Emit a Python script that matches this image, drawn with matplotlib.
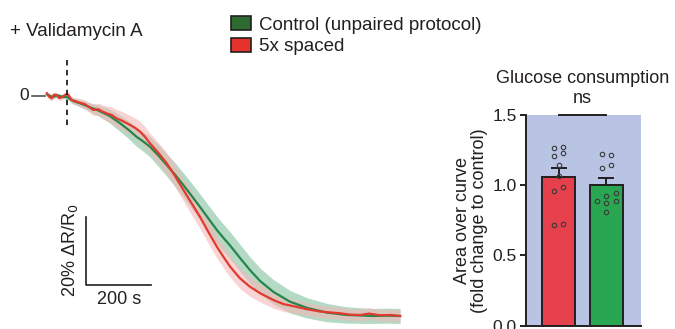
import numpy as np
import matplotlib
matplotlib.use("Agg")
import matplotlib.pyplot as plt
import matplotlib.patches as mpatches

plt.rcParams['font.family'] = ['Liberation Sans', 'DejaVu Sans']

# ---- trace data (time in s relative to drug, response in % dR/R0) ----
red_t = [-62, -55, -47, -40, -32, -24, -16, -8, 0, 4, 14, 25, 40, 55, 65, 81, 96, 110, 122,
         138, 153, 170, 194, 210, 225, 240, 255, 281, 307, 332, 358, 383, 409, 435, 461,
         482, 502, 532, 563, 594, 635, 666, 696, 738, 779, 840, 870, 902, 930, 963, 995, 1025]
red_y = [0.8, -0.2, -0.7, 0.4, 0.3, -0.6, -0.4, 0.2, 0.6, 0.3, -1.2, -1.5, -2.0, -2.4, -3.1,
         -4.1, -3.9, -4.6, -5.1, -5.6, -6.6, -7.3, -8.5, -9.4, -10.5, -12.0, -13.9, -16.7,
         -19.8, -23.5, -27.6, -31.5, -35.5, -40.0, -44.3, -47.4, -50.2, -53.6, -56.1, -58.0,
         -60.0, -61.2, -61.8, -62.7, -63.4, -63.9, -64.3, -64.4, -64.0, -64.5, -64.4, -64.7]
red_sem = [0.8, 0.8, 0.8, 0.8, 0.8, 0.8, 0.8, 0.8, 0.8, 0.9, 1.0, 1.0, 1.2, 1.3, 1.4,
           1.6, 1.8, 2.0, 2.2, 2.4, 2.6, 2.7, 2.8, 2.9, 3.0, 3.0, 3.0, 3.0, 3.1, 3.2, 3.3,
           3.4, 3.4, 3.4, 3.3, 3.2, 3.1, 3.0, 2.8, 2.6, 2.4, 2.2, 2.0, 1.9, 1.8, 1.7, 1.7,
           1.7, 1.7, 1.7, 1.7, 1.7]

green_t = [-62, -45, -30, -15, 0, 20, 45, 70, 95, 130, 163, 190, 214, 235, 255, 281, 307,
           332, 358, 383, 409, 435, 461, 482, 502, 532, 563, 594, 635, 686, 738, 799, 860,
           942, 985, 1025]
green_y = [0.5, -0.3, 0.2, -0.2, -0.3, -1.5, -2.3, -3.3, -4.2, -5.8, -8.0, -10.0, -12.0,
           -13.4, -14.9, -17.5, -20.3, -23.1, -26.2, -29.3, -32.6, -36.0, -39.4, -41.8,
           -44.0, -47.6, -51.2, -54.4, -57.6, -60.5, -62.3, -63.7, -64.4, -64.7, -64.6, -64.7]
green_sem = [0.6, 0.6, 0.6, 0.6, 0.7, 0.9, 1.1, 1.3, 1.6, 2.0, 2.4, 2.6, 2.8, 2.9, 3.0,
             3.2, 3.3, 3.5, 3.6, 3.7, 3.8, 3.9, 4.0, 4.0, 4.0, 4.0, 3.9, 3.8, 3.6, 3.3,
             3.0, 2.7, 2.4, 2.2, 2.2, 2.2]

# ---- bar data ----
bar_labels = ["5x spaced", "Control (unpaired protocol)"]
bar_means = [1.056, 1.0]
bar_sem = [0.07, 0.053]
red_points = [1.267, 1.274, 1.206, 1.227, 1.142, 1.068, 0.957, 0.989, 0.719, 0.724]
green_points = [1.22, 1.213, 1.125, 1.142, 0.89, 0.923, 0.947, 0.871, 0.885, 0.81]
red_jitter = [-0.1, 0.1, -0.1, 0.1, 0, 0, -0.1, 0.1, -0.1, 0.1]
green_jitter = [-0.09, 0.1, -0.09, 0.1, -0.19, 0, 0.2, 0, 0.2, 0]

INK = "#231f20"
RED_LINE = "#e23a2e"
RED_BAND = "#f4b8b8"
GREEN_LINE = "#23864a"
GREEN_BAND = "#8cc5a6"
BAR_RED = "#e5404b"
BAR_GREEN = "#29a652"
BG_BLUE = "#b9c3e3"

W, H = 675, 329
fig = plt.figure(figsize=(W / 100, H / 100), dpi=100)

# ---------------- left panel: traces ----------------
ax = fig.add_axes([0, 0, 420 / W, 1])
ax.set_xlim(-67 / 0.325, (420 - 67) / 0.325)
ax.set_ylim(-(H - 96) / 3.4, 96 / 3.4)
ax.axis("off")

ax.fill_between(green_t, np.array(green_y) - green_sem, np.array(green_y) + green_sem,
                color=GREEN_BAND, alpha=0.65, lw=0)
ax.fill_between(red_t, np.array(red_y) - red_sem, np.array(red_y) + red_sem,
                color=RED_BAND, alpha=0.6, lw=0)
ax.plot(green_t, green_y, color=GREEN_LINE, lw=1.6)
ax.plot(red_t, red_y, color=RED_LINE, lw=1.6)

# drug application marker
ax.plot([0, 0], [-8.5, 11.5], color=INK, lw=1.3, ls=(0, (3, 2.5)))
# zero tick
ax.plot([-108, -68], [0, 0], color="#555555", lw=1.2)
ax.text(-118, 0, "0", ha="right", va="center", fontsize=12.5, color=INK)

# scale bars
ax.plot([57.5, 57.5, 257.5], [-35.6, -55.6, -55.6], color=INK, lw=1.2)
ax.text(10, -45.5, "20% ΔR/R$_0$", rotation=90, ha="center", va="center",
        fontsize=13, color=INK)
ax.text(160, -60, "200 s", ha="center", va="center", fontsize=13, color=INK)

fig.text(10 / W, 1 - 31 / H, "+ Validamycin A", ha="left", va="center",
         fontsize=13.5, color=INK)

# legend
handles = [mpatches.Patch(facecolor="#2e6b31", edgecolor=INK, lw=1.2),
           mpatches.Patch(facecolor="#e5322a", edgecolor=INK, lw=1.2)]
fig.legend(handles, ["Control (unpaired protocol)", "5x spaced"],
           loc="upper left", bbox_to_anchor=(218 / W, 1 - 3 / H), frameon=False,
           fontsize=13.5, handlelength=1.07, handleheight=0.8, handletextpad=0.4,
           labelspacing=0.2, borderpad=0.2, labelcolor=INK)

# ---------------- right panel: bars ----------------
bx = fig.add_axes([526 / W, (H - 325.7) / H, 115 / W, 210.7 / H])
bx.set_facecolor(BG_BLUE)
pos = np.arange(2)
bx.bar(pos, bar_means, width=0.687, color=[BAR_RED, BAR_GREEN], edgecolor=INK,
       lw=1.4, zorder=2)
bx.errorbar(pos, bar_means, yerr=[[0, 0], bar_sem], fmt="none", ecolor=INK,
            elinewidth=1.4, capsize=6, capthick=1.4, zorder=3)
bx.plot(pos[0] + np.array(red_jitter), red_points, "o", ms=3.2, mfc="none",
        mec="#3a3a3a", mew=0.8, zorder=4)
bx.plot(pos[1] + np.array(green_jitter), green_points, "o", ms=3.2, mfc="none",
        mec="#3a3a3a", mew=0.8, zorder=4)

bx.set_xlim(-0.687, 1.729)
bx.set_ylim(0, 1.5)
bx.set_yticks([0, 0.5, 1.0, 1.5])
bx.set_yticklabels(["0.0", "0.5", "1.0", "1.5"])
bx.set_xticks([])
bx.tick_params(axis="y", labelsize=12.5, length=4.5, width=1.4, pad=2, colors=INK)
for s in ["top", "right"]:
    bx.spines[s].set_visible(False)
for s in ["left", "bottom"]:
    bx.spines[s].set_linewidth(1.4)
    bx.spines[s].set_color(INK)
bx.set_ylabel("Area over curve\n(fold change to control)", fontsize=13,
              color=INK, linespacing=1.0, labelpad=3)

# significance
bx.plot([0, 1], [1.5, 1.5], color=INK, lw=1.4, clip_on=False, zorder=5)
bx.text(0.5, 1.56, "ns", ha="center", va="bottom", fontsize=13, color=INK)
bx.text(0.5, 1.7, "Glucose consumption", ha="center", va="bottom", fontsize=13,
        color=INK)

fig.savefig("out.png", dpi=100)
